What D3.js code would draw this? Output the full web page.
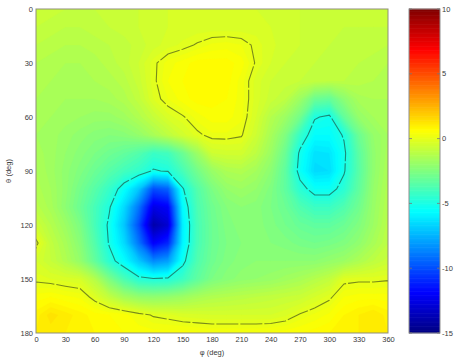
<!DOCTYPE html>
<html>
<head>
<meta charset="utf-8">
<script src="https://cdn.jsdelivr.net/npm/d3@7"></script>
<style>
  body { margin: 0; background: #fff; }
  text { font-family: "Liberation Sans", Arial, sans-serif; }
</style>
</head>
<body>
<div id="chart"></div>
<script>
var svgWidth = 454;
var svgHeight = 362;

// plot box and colorbar box, in page pixels
var plot = {left: 36, right: 388, top: 9, bottom: 333};
var bar = {left: 409, right: 440};

// grid the field was read on: phi every 15 deg, theta every 10 deg
var phiGrid = d3.range(0, 361, 15);
var thetaGrid = d3.range(0, 181, 10);

var phiTicks = [0, 30, 60, 90, 120, 150, 180, 210, 240, 270, 300, 330, 360];
var thetaTicks = [0, 30, 60, 90, 120, 150, 180];
var barTicks = [10, 5, 0, -5, -10, -15];
var lineLevels = [-5, 0];

// jet colormap control points (value -> colour), colour limits -15..10
var jetValues = [-15, -11.875, -5.625, 0.625, 6.875, 10];
var jetColors = ["#000080", "#0000ff", "#00ffff", "#ffff00", "#ff0000", "#800000"];

// field values, one row per theta (0..180), one column per phi (0..360)
var field = [
  /*   0 */ [-0.7,-0.7,-0.8,-0.8,-0.8,-0.7,-0.6,-0.6,-0.5,-0.4,-0.3,-0.3,-0.3,-0.3,-0.3,-0.4,-0.4,-0.5,-0.6,-0.6,-0.7,-0.7,-0.7,-0.7,-0.7],
  /*  10 */ [-0.8,-0.9,-1.0,-1.0,-0.9,-0.8,-0.7,-0.6,-0.5,-0.4,-0.35,-0.35,-0.35,-0.35,-0.35,-0.3,-0.4,-0.5,-0.6,-0.7,-0.7,-0.8,-0.8,-0.8,-0.8],
  /*  20 */ [-1.0,-1.1,-1.2,-1.2,-1.1,-1.0,-0.9,-0.7,-0.5,-0.3,-0.15,0.05,0.25,0.3,0.2,-0.1,-0.35,-0.5,-0.6,-0.7,-0.8,-0.8,-0.9,-0.9,-1.0],
  /*  30 */ [-1.2,-1.3,-1.4,-1.4,-1.3,-1.1,-0.9,-0.6,-0.1,0.3,0.5,0.7,0.7,0.7,0.5,-0.05,-0.4,-0.6,-0.7,-0.8,-0.9,-0.9,-1.0,-1.1,-1.2],
  /*  40 */ [-1.3,-1.4,-1.5,-1.5,-1.4,-1.3,-1.1,-0.7,-0.1,0.4,0.6,0.8,0.8,0.7,0.3,-0.3,-0.6,-0.7,-0.8,-0.9,-1.0,-1.0,-1.1,-1.2,-1.3],
  /*  50 */ [-1.4,-1.5,-1.6,-1.6,-1.6,-1.5,-1.3,-0.9,-0.2,0.2,0.5,0.7,0.7,0.6,0.3,-0.3,-0.7,-1.0,-1.8,-3.0,-3.2,-2.2,-1.5,-1.4,-1.4],
  /*  60 */ [-1.5,-1.6,-1.7,-1.8,-1.9,-1.9,-1.7,-1.3,-0.8,-0.3,-0.05,0.3,0.5,0.5,0.25,-0.4,-1.2,-1.8,-2.8,-4.9,-5.2,-3.2,-2.0,-1.6,-1.5],
  /*  70 */ [-1.6,-1.7,-1.9,-2.1,-2.3,-2.4,-2.3,-2.0,-1.5,-1.0,-0.5,-0.1,0.15,0.15,0.05,-0.6,-1.5,-2.5,-4.3,-5.6,-5.6,-4.9,-3.0,-2.0,-1.6],
  /*  80 */ [-1.5,-1.7,-2.0,-2.3,-2.6,-2.9,-3.2,-3.6,-4.2,-4.0,-3.0,-1.8,-0.6,-0.5,-0.5,-1.0,-1.8,-3.0,-5.2,-6.3,-6.2,-5.2,-3.4,-2.1,-1.5],
  /*  90 */ [-1.4,-1.7,-2.1,-2.5,-3.0,-3.5,-4.0,-4.4,-5.1,-4.9,-3.9,-2.8,-1.9,-1.4,-1.3,-1.6,-2.2,-3.3,-5.4,-6.5,-6.4,-5.1,-3.5,-2.1,-1.4],
  /* 100 */ [-1.3,-1.6,-2.1,-2.8,-3.5,-4.3,-5.5,-7.0,-10.0,-9.5,-5.1,-3.6,-2.6,-2.0,-1.8,-2.0,-2.5,-3.3,-4.6,-5.4,-5.4,-4.6,-3.3,-2.0,-1.3],
  /* 110 */ [-1.1,-1.5,-2.2,-3.0,-3.9,-4.9,-6.5,-9.0,-12.5,-12.0,-5.7,-3.8,-2.9,-2.4,-2.2,-2.3,-2.6,-3.0,-3.7,-4.2,-4.2,-3.7,-2.9,-1.9,-1.2],
  /* 120 */ [-0.6,-1.2,-1.8,-2.6,-3.9,-5.2,-7.0,-10.0,-14.0,-13.0,-6.0,-3.9,-3.0,-2.5,-2.3,-2.3,-2.5,-2.8,-3.1,-3.3,-3.3,-3.0,-2.5,-1.8,-1.1],
  /* 130 */ [0.15,-0.9,-1.5,-2.3,-3.6,-5.1,-6.5,-9.0,-12.0,-11.0,-5.9,-3.9,-3.0,-2.6,-2.4,-2.3,-2.4,-2.5,-2.7,-2.8,-2.7,-2.5,-2.1,-1.5,-1.0],
  /* 140 */ [-0.4,-0.8,-1.3,-2.0,-3.2,-4.6,-5.6,-7.0,-8.5,-8.0,-5.3,-3.7,-2.9,-2.5,-2.3,-2.2,-2.2,-2.2,-2.2,-2.2,-2.0,-1.8,-1.4,-1.0,-0.7],
  /* 150 */ [-0.1,-0.2,-0.3,-0.4,-1.2,-2.6,-3.8,-4.7,-4.9,-4.8,-4.2,-3.3,-2.6,-2.3,-2.1,-2.0,-1.9,-1.7,-1.5,-1.2,-0.9,-0.15,-0.1,-0.1,-0.05],
  /* 160 */ [0.5,0.6,0.45,0.35,-0.2,-0.9,-1.6,-2.0,-2.1,-2.0,-1.8,-1.5,-1.3,-1.2,-1.1,-1.0,-0.9,-0.8,-0.7,-0.4,-0.1,0.4,0.5,0.5,0.5],
  /* 170 */ [0.9,1.3,1.1,0.9,0.7,0.6,0.5,0.2,-0.05,-0.15,-0.3,-0.35,-0.4,-0.4,-0.4,-0.4,-0.4,-0.25,0.05,0.25,0.45,0.8,1.0,1.2,0.9],
  /* 180 */ [1.0,1.1,1.0,0.9,0.8,0.7,0.6,0.55,0.5,0.5,0.5,0.45,0.4,0.4,0.4,0.4,0.45,0.5,0.6,0.7,0.8,0.9,1.0,1.0,1.0]
];

var svg = d3.select("#chart")
  .append("svg")
  .attr("width", svgWidth)
  .attr("height", svgHeight);

var xScale = d3.scaleLinear().domain([0, 360]).range([plot.left, plot.right]);
var yScale = d3.scaleLinear().domain([0, 180]).range([plot.top, plot.bottom]);
var color = d3.scaleLinear().domain(jetValues).range(jetColors).clamp(true);
var barScale = d3.scaleLinear().domain([-15, 10]).range([plot.bottom, plot.top]);

// grid coordinates from d3.contours -> page pixels (values sit at cell centres)
var dPhi = phiGrid[1] - phiGrid[0];
var dTheta = thetaGrid[1] - thetaGrid[0];
var toPage = d3.geoTransform({
  point: function(gx, gy) {
    this.stream.point(xScale((gx - 0.5) * dPhi), yScale((gy - 0.5) * dTheta));
  }
});
var path = d3.geoPath(toPage);

svg.append("clipPath")
  .attr("id", "plotClip")
  .append("rect")
  .attr("x", plot.left)
  .attr("y", plot.top)
  .attr("width", plot.right - plot.left)
  .attr("height", plot.bottom - plot.top);

var values = field.flat();
var step = 0.2;
var fillLevels = d3.range(-15, 10, step);

var contourGen = d3.contours()
  .size([phiGrid.length, thetaGrid.length]);

var fillGroup = svg.append("g").attr("clip-path", "url(#plotClip)");

fillGroup.selectAll("path")
  .data(contourGen.thresholds(fillLevels)(values))
  .enter()
  .append("path")
  .attr("d", path)
  .attr("fill", d => color(d.value + step / 2))
  .attr("stroke", d => color(d.value + step / 2))
  .attr("stroke-width", 0.3);

// contour lines
fillGroup.selectAll(".cline")
  .data(contourGen.thresholds(lineLevels)(values))
  .enter()
  .append("path")
  .classed("cline", true)
  .attr("d", path)
  .attr("fill", "none")
  .attr("stroke", "#1e2a1e")
  .attr("stroke-opacity", 0.55)
  .attr("stroke-width", 1.1)
  .attr("stroke-dasharray", "22,2");

// plot box
svg.append("rect")
  .attr("x", plot.left)
  .attr("y", plot.top)
  .attr("width", plot.right - plot.left)
  .attr("height", plot.bottom - plot.top)
  .attr("fill", "none")
  .attr("stroke", "#8f8f7a")
  .attr("stroke-width", 1);

// axes
var bottomAxis = d3.axisBottom(xScale).tickValues(phiTicks).tickSize(0).tickPadding(4);
var leftAxis = d3.axisLeft(yScale).tickValues(thetaTicks).tickSize(0).tickPadding(3);

var xAxis = svg.append("g")
  .attr("transform", `translate(0, ${plot.bottom})`)
  .call(bottomAxis);
var yAxis = svg.append("g")
  .attr("transform", `translate(${plot.left}, 0)`)
  .call(leftAxis);

[xAxis, yAxis].forEach(function(ax) {
  ax.select(".domain").remove();
  ax.attr("font-family", null).attr("font-size", null);
  ax.selectAll("text").attr("font-size", "7.5px").attr("fill", "#3a3a3a");
});

svg.append("text")
  .attr("x", (plot.left + plot.right) / 2)
  .attr("y", 355)
  .attr("text-anchor", "middle")
  .attr("font-size", "7.5px")
  .attr("fill", "#3a3a3a")
  .text("φ (deg)");

svg.append("text")
  .attr("transform", `translate(11, ${(plot.top + plot.bottom) / 2}) rotate(-90)`)
  .attr("text-anchor", "middle")
  .attr("font-size", "7.5px")
  .attr("fill", "#3a3a3a")
  .text("θ (deg)");

// colorbar
var barStep = 0.1;
svg.append("g")
  .selectAll("rect")
  .data(d3.range(-15, 10, barStep))
  .enter()
  .append("rect")
  .attr("x", bar.left)
  .attr("width", bar.right - bar.left)
  .attr("y", d => barScale(d + barStep) - 0.3)
  .attr("height", d => barScale(d) - barScale(d + barStep) + 0.6)
  .attr("fill", d => color(d + barStep / 2));

svg.append("rect")
  .attr("x", bar.left)
  .attr("y", plot.top)
  .attr("width", bar.right - bar.left)
  .attr("height", plot.bottom - plot.top)
  .attr("fill", "none")
  .attr("stroke", "#8f8f8f")
  .attr("stroke-width", 1);

var barTickG = svg.append("g").selectAll("g")
  .data(barTicks)
  .enter()
  .append("g")
  .attr("transform", d => `translate(0, ${barScale(d)})`);

barTickG.append("line")
  .attr("x1", bar.left).attr("x2", bar.left + 3)
  .attr("stroke", "#777").attr("stroke-width", 0.8);
barTickG.append("line")
  .attr("x1", bar.right - 3).attr("x2", bar.right)
  .attr("stroke", "#777").attr("stroke-width", 0.8);
barTickG.append("text")
  .attr("x", bar.right + 2)
  .attr("dy", "0.35em")
  .attr("font-size", "7.5px")
  .attr("fill", "#3a3a3a")
  .text(d => d);
</script>
</body>
</html>
